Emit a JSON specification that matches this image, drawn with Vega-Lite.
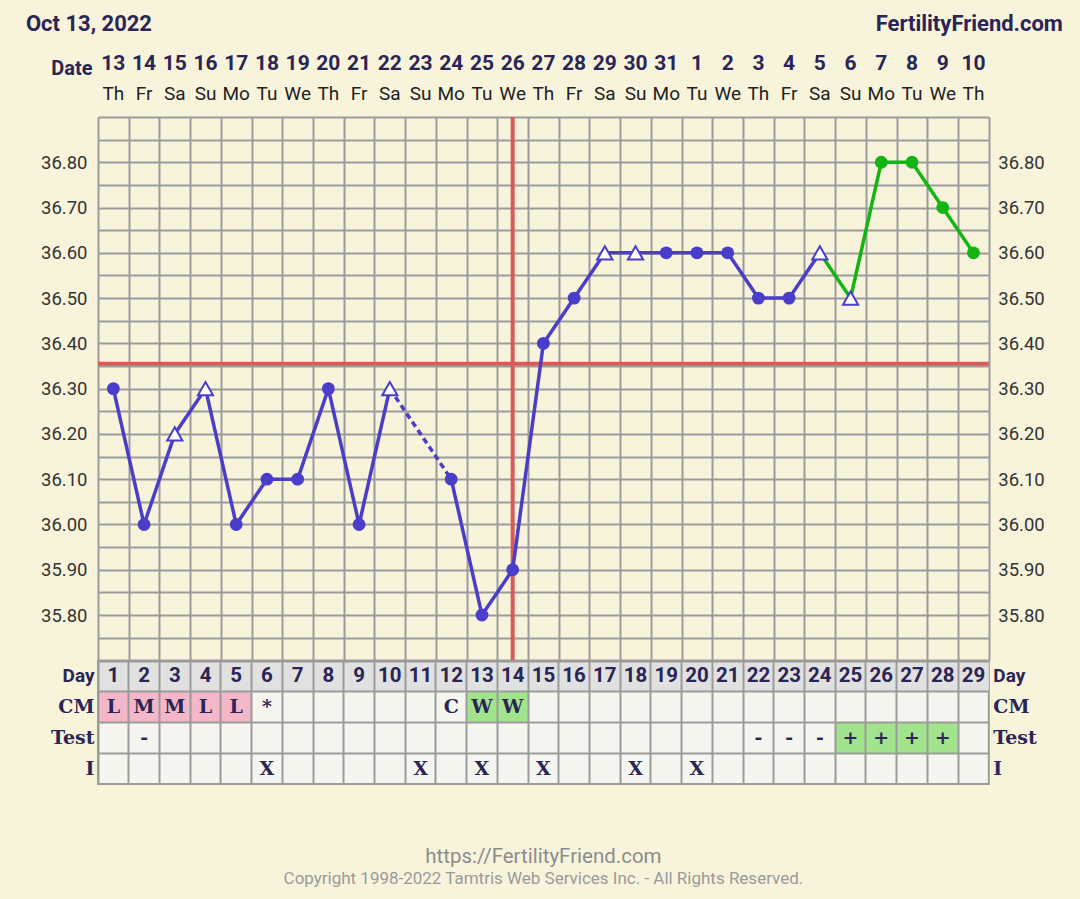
{
  "$schema": "https://vega.github.io/schema/vega-lite/v6.json",
  "background": "#f8f4dc",
  "padding": {"left": 25, "top": 12, "right": 25, "bottom": 30},
  "bounds": "flush",
  "spacing": 0,
  "resolve": {"scale": {"fill": "independent", "color": "independent"}},
  "config": {"view": {"stroke": null}, "font": "Roboto"},
  "datasets": {
    "days": [
      {"day":1,"date":"13","dow":"Th"},{"day":2,"date":"14","dow":"Fr"},{"day":3,"date":"15","dow":"Sa"},{"day":4,"date":"16","dow":"Su"},{"day":5,"date":"17","dow":"Mo"},{"day":6,"date":"18","dow":"Tu"},{"day":7,"date":"19","dow":"We"},{"day":8,"date":"20","dow":"Th"},{"day":9,"date":"21","dow":"Fr"},{"day":10,"date":"22","dow":"Sa"},{"day":11,"date":"23","dow":"Su"},{"day":12,"date":"24","dow":"Mo"},{"day":13,"date":"25","dow":"Tu"},{"day":14,"date":"26","dow":"We"},{"day":15,"date":"27","dow":"Th"},{"day":16,"date":"28","dow":"Fr"},{"day":17,"date":"29","dow":"Sa"},{"day":18,"date":"30","dow":"Su"},{"day":19,"date":"31","dow":"Mo"},{"day":20,"date":"1","dow":"Tu"},{"day":21,"date":"2","dow":"We"},{"day":22,"date":"3","dow":"Th"},{"day":23,"date":"4","dow":"Fr"},{"day":24,"date":"5","dow":"Sa"},{"day":25,"date":"6","dow":"Su"},{"day":26,"date":"7","dow":"Mo"},{"day":27,"date":"8","dow":"Tu"},{"day":28,"date":"9","dow":"We"},{"day":29,"date":"10","dow":"Th"}
    ],
    "temps": [
      {"day":1,"temp":36.3,"series":"main","kind":"circle"},
      {"day":2,"temp":36.0,"series":"main","kind":"circle"},
      {"day":3,"temp":36.2,"series":"main","kind":"open"},
      {"day":4,"temp":36.3,"series":"main","kind":"open"},
      {"day":5,"temp":36.0,"series":"main","kind":"circle"},
      {"day":6,"temp":36.1,"series":"main","kind":"circle"},
      {"day":7,"temp":36.1,"series":"main","kind":"circle"},
      {"day":8,"temp":36.3,"series":"main","kind":"circle"},
      {"day":9,"temp":36.0,"series":"main","kind":"circle"},
      {"day":10,"temp":36.3,"series":"main","kind":"open"},
      {"day":12,"temp":36.1,"series":"main","kind":"circle"},
      {"day":13,"temp":35.8,"series":"main","kind":"circle"},
      {"day":14,"temp":35.9,"series":"main","kind":"circle"},
      {"day":15,"temp":36.4,"series":"main","kind":"circle"},
      {"day":16,"temp":36.5,"series":"main","kind":"circle"},
      {"day":17,"temp":36.6,"series":"main","kind":"open"},
      {"day":18,"temp":36.6,"series":"main","kind":"open"},
      {"day":19,"temp":36.6,"series":"main","kind":"circle"},
      {"day":20,"temp":36.6,"series":"main","kind":"circle"},
      {"day":21,"temp":36.6,"series":"main","kind":"circle"},
      {"day":22,"temp":36.5,"series":"main","kind":"circle"},
      {"day":23,"temp":36.5,"series":"main","kind":"circle"},
      {"day":24,"temp":36.6,"series":"main","kind":"open"},
      {"day":25,"temp":36.5,"series":"late","kind":"open"},
      {"day":26,"temp":36.8,"series":"late","kind":"circle"},
      {"day":27,"temp":36.8,"series":"late","kind":"circle"},
      {"day":28,"temp":36.7,"series":"late","kind":"circle"},
      {"day":29,"temp":36.6,"series":"late","kind":"circle"}
    ],
    "links": [
      {"day":1,"temp":36.3,"seg":"A"},{"day":2,"temp":36.0,"seg":"A"},{"day":3,"temp":36.2,"seg":"A"},{"day":4,"temp":36.3,"seg":"A"},{"day":5,"temp":36.0,"seg":"A"},{"day":6,"temp":36.1,"seg":"A"},{"day":7,"temp":36.1,"seg":"A"},{"day":8,"temp":36.3,"seg":"A"},{"day":9,"temp":36.0,"seg":"A"},{"day":10,"temp":36.3,"seg":"A"},
      {"day":10,"temp":36.3,"seg":"B"},{"day":12,"temp":36.1,"seg":"B"},
      {"day":12,"temp":36.1,"seg":"C"},{"day":13,"temp":35.8,"seg":"C"},{"day":14,"temp":35.9,"seg":"C"},{"day":15,"temp":36.4,"seg":"C"},{"day":16,"temp":36.5,"seg":"C"},{"day":17,"temp":36.6,"seg":"C"},{"day":18,"temp":36.6,"seg":"C"},{"day":19,"temp":36.6,"seg":"C"},{"day":20,"temp":36.6,"seg":"C"},{"day":21,"temp":36.6,"seg":"C"},{"day":22,"temp":36.5,"seg":"C"},{"day":23,"temp":36.5,"seg":"C"},{"day":24,"temp":36.6,"seg":"C"},
      {"day":24,"temp":36.6,"seg":"D"},{"day":25,"temp":36.5,"seg":"D"},{"day":26,"temp":36.8,"seg":"D"},{"day":27,"temp":36.8,"seg":"D"},{"day":28,"temp":36.7,"seg":"D"},{"day":29,"temp":36.6,"seg":"D"}
    ],
    "obs": [
      {"day":1,"row":"CM","v":"L"},{"day":2,"row":"CM","v":"M"},{"day":3,"row":"CM","v":"M"},{"day":4,"row":"CM","v":"L"},{"day":5,"row":"CM","v":"L"},{"day":6,"row":"CM","v":"*"},{"day":12,"row":"CM","v":"C"},{"day":13,"row":"CM","v":"W"},{"day":14,"row":"CM","v":"W"},
      {"day":2,"row":"Test","v":"-"},{"day":22,"row":"Test","v":"-"},{"day":23,"row":"Test","v":"-"},{"day":24,"row":"Test","v":"-"},{"day":25,"row":"Test","v":"+"},{"day":26,"row":"Test","v":"+"},{"day":27,"row":"Test","v":"+"},{"day":28,"row":"Test","v":"+"},
      {"day":6,"row":"I","v":"X"},{"day":11,"row":"I","v":"X"},{"day":13,"row":"I","v":"X"},{"day":15,"row":"I","v":"X"},{"day":18,"row":"I","v":"X"},{"day":20,"row":"I","v":"X"}
    ]
  },
  "vconcat": [
    {
      "width": 890.8,
      "height": 70,
      "data": {"name": "days"},
      "layer": [
        {
          "mark": {"type": "text", "fontSize": 21, "fontWeight": "bold", "color": "#2a2555", "font": "Roboto"},
          "encoding": {
            "x": {"field": "day", "type": "ordinal", "scale": {"type": "band", "paddingInner": 0, "paddingOuter": 0},
                  "axis": {"orient": "top", "labels": false, "ticks": false, "domain": false, "grid": false,
                           "title": "FertilityFriend.com", "titleX": 964.4, "titleY": -23.7, "titleAlign": "right", "titleBaseline": "middle", "titleAngle": 0,
                           "titleFontSize": 22, "titleFontWeight": "bold", "titleColor": "#2a2555", "titleFont": "Roboto"}},
            "y": {"datum": "n", "type": "ordinal", "scale": {"type": "point", "domain": ["n", "w"], "range": [17, 46.5], "padding": 0},
                  "axis": {"orient": "left", "labelExpr": "datum.value === 'n' ? 'Date' : ''", "labelOffset": 4, "labelFontSize": 20, "labelFontWeight": "bold", "labelColor": "#2a2555", "labelFont": "Roboto",
                           "ticks": false, "domain": false, "grid": false, "labelPadding": 6,
                           "title": "Oct 13, 2022", "titleX": -72.6, "titleY": -23.7, "titleAlign": "left", "titleBaseline": "middle", "titleAngle": 0,
                           "titleFontSize": 22, "titleFontWeight": "bold", "titleColor": "#2a2555", "titleFont": "Roboto"}},
            "text": {"field": "date"}
          }
        },
        {
          "mark": {"type": "text", "fontSize": 19, "color": "#222222", "font": "Roboto"},
          "encoding": {
            "x": {"field": "day", "type": "ordinal"},
            "y": {"datum": "w", "type": "ordinal"},
            "text": {"field": "dow"}
          }
        }
      ]
    },
    {
      "width": 890.8,
      "height": 543.3,
      "resolve": {"axis": {"y": "independent"}},
      "layer": [
        {
          "data": {"values": [{"day": 14}]},
          "mark": {"type": "rule", "color": "#d85a5a", "strokeWidth": 4},
          "encoding": {
            "x": {"field": "day", "type": "quantitative", "scale": {"domain": [0.5, 29.5], "nice": false, "zero": false},
                  "axis": {"values": [0.5,1.5,2.5,3.5,4.5,5.5,6.5,7.5,8.5,9.5,10.5,11.5,12.5,13.5,14.5,15.5,16.5,17.5,18.5,19.5,20.5,21.5,22.5,23.5,24.5,25.5,26.5,27.5,28.5,29.5],
                           "grid": true, "gridColor": "#9b9b9b", "gridWidth": 2, "labels": false, "ticks": false, "domain": false, "title": null}}
          }
        },
        {
          "data": {"values": [{"temp": 36.355}]},
          "mark": {"type": "rule", "color": "#d85a5a", "strokeWidth": 4},
          "encoding": {
            "y": {"field": "temp", "type": "quantitative", "scale": {"domain": [35.7, 36.9], "nice": false, "zero": false},
                  "axis": {"orient": "left", "values": [35.7,35.75,35.8,35.85,35.9,35.95,36,36.05,36.1,36.15,36.2,36.25,36.3,36.35,36.4,36.45,36.5,36.55,36.6,36.65,36.7,36.75,36.8,36.85,36.9],
                           "grid": true, "gridColor": "#9b9b9b", "gridWidth": 2,
                           "labelExpr": "(datum.value >= 35.79 && datum.value <= 36.81 && abs(datum.value*10 - round(datum.value*10)) < 0.01) ? format(datum.value, '.2f') : ''",
                           "labelFontSize": 18.5, "labelColor": "#333333", "labelFont": "Roboto", "ticks": false, "domain": false, "title": null, "labelPadding": 11}}
          }
        },
        {
          "data": {"name": "links"},
          "mark": {"type": "line", "strokeWidth": 3.5},
          "encoding": {
            "x": {"field": "day", "type": "quantitative",
                  "axis": {"values": [0.5,1.5,2.5,3.5,4.5,5.5,6.5,7.5,8.5,9.5,10.5,11.5,12.5,13.5,14.5,15.5,16.5,17.5,18.5,19.5,20.5,21.5,22.5,23.5,24.5,25.5,26.5,27.5,28.5,29.5],
                           "grid": true, "gridColor": "#9b9b9b", "gridWidth": 2, "labels": false, "ticks": false, "domain": false, "title": null}},
            "y": {"field": "temp", "type": "quantitative",
                  "axis": {"orient": "right", "values": [35.8,35.9,36,36.1,36.2,36.3,36.4,36.5,36.6,36.7,36.8], "format": ".2f", "grid": false,
                           "labelFontSize": 18.5, "labelColor": "#333333", "labelFont": "Roboto", "ticks": false, "domain": false, "title": null, "labelPadding": 9}},
            "detail": {"field": "seg"},
            "color": {"field": "seg", "type": "nominal", "scale": {"domain": ["A", "B", "C", "D"], "range": ["#4a3dc8", "#4a3dc8", "#4a3dc8", "#13b513"]}, "legend": null},
            "strokeDash": {"field": "seg", "type": "nominal", "scale": {"domain": ["A", "B", "C", "D"], "range": [[1, 0], [6, 4], [1, 0], [1, 0]]}, "legend": null}
          }
        },
        {
          "data": {"name": "temps"},
          "transform": [{"filter": "datum.kind === 'circle'"}],
          "mark": {"type": "circle", "size": 165, "opacity": 1},
          "encoding": {
            "x": {"field": "day", "type": "quantitative",
                  "axis": {"values": [0.5,1.5,2.5,3.5,4.5,5.5,6.5,7.5,8.5,9.5,10.5,11.5,12.5,13.5,14.5,15.5,16.5,17.5,18.5,19.5,20.5,21.5,22.5,23.5,24.5,25.5,26.5,27.5,28.5,29.5],
                           "grid": true, "gridColor": "#9b9b9b", "gridWidth": 2, "labels": false, "ticks": false, "domain": false, "title": null}},
            "y": {"field": "temp", "type": "quantitative", "axis": null},
            "fill": {"field": "series", "type": "nominal", "scale": {"domain": ["main", "late"], "range": ["#4a3dc8", "#13b513"]}, "legend": null}
          }
        },
        {
          "data": {"name": "temps"},
          "transform": [{"filter": "datum.kind === 'open'"}],
          "mark": {"type": "point", "shape": "triangle-up", "size": 230, "filled": true, "fill": "#ffffff", "stroke": "#4a3dc8", "strokeWidth": 2, "opacity": 1},
          "encoding": {
            "x": {"field": "day", "type": "quantitative",
                  "axis": {"values": [0.5,1.5,2.5,3.5,4.5,5.5,6.5,7.5,8.5,9.5,10.5,11.5,12.5,13.5,14.5,15.5,16.5,17.5,18.5,19.5,20.5,21.5,22.5,23.5,24.5,25.5,26.5,27.5,28.5,29.5],
                           "grid": true, "gridColor": "#9b9b9b", "gridWidth": 2, "labels": false, "ticks": false, "domain": false, "title": null}},
            "y": {"field": "temp", "type": "quantitative", "axis": null}
          }
        }
      ]
    },
    {
      "width": 890.8,
      "height": 123,
      "view": {"fill": "#f6f6f0", "stroke": "#9b9b9b", "strokeWidth": 2},
      "title": {"text": "https://FertilityFriend.com", "subtitle": "Copyright 1998-2022 Tamtris Web Services Inc. - All Rights Reserved.",
                "orient": "bottom", "anchor": "middle", "frame": "group", "offset": 63, "fontSize": 20.5, "fontWeight": "normal", "color": "#8c8c8c", "font": "Roboto",
                "subtitleFontSize": 17, "subtitleColor": "#9a9a9a", "subtitleFont": "Roboto", "subtitlePadding": 4},
      "resolve": {"axis": {"y": "independent"}},
      "layer": [
        {
          "data": {"name": "days"},
          "mark": {"type": "rect", "color": "#e1e1e1"},
          "encoding": {
            "x": {"field": "day", "type": "ordinal", "scale": {"type": "band", "paddingInner": 0, "paddingOuter": 0},
                  "axis": {"orient": "bottom", "grid": true, "bandPosition": 0, "gridColor": "#9b9b9b", "gridWidth": 2, "zindex": 1, "labels": false, "ticks": false, "domain": false, "title": null}},
            "y": {"datum": "Day", "type": "ordinal", "scale": {"type": "band", "domain": ["Day", "CM", "Test", "I"], "paddingInner": 0, "paddingOuter": 0},
                  "axis": {"orient": "left", "grid": true, "bandPosition": 0, "gridColor": "#9b9b9b", "gridWidth": 2, "zindex": 1,
                           "labelFontSize": 19, "labelFontWeight": "bold", "labelColor": "#2a2555",
                           "labelFont": {"condition": {"test": "datum.value === 'Day'", "value": "Roboto"}, "value": "DejaVu Serif"},
                           "ticks": false, "domain": false, "title": null, "labelPadding": 4}}
          }
        },
        {
          "data": {"name": "obs"},
          "transform": [{"filter": "indexof(['L','M','W','+'], datum.v) >= 0"}],
          "mark": {"type": "rect"},
          "encoding": {
            "x": {"field": "day", "type": "ordinal"},
            "y": {"field": "row", "type": "ordinal", "axis": null},
            "fill": {"field": "v", "type": "nominal", "scale": {"domain": ["L", "M", "W", "+"], "range": ["#f4b6c9", "#f4b6c9", "#a2e38e", "#a2e38e"]}, "legend": null}
          }
        },
        {
          "data": {"name": "days"},
          "mark": {"type": "text", "fontSize": 20.5, "fontWeight": "bold", "color": "#2a2555", "font": "Roboto"},
          "encoding": {
            "x": {"field": "day", "type": "ordinal"},
            "y": {"datum": "Day", "type": "ordinal",
                  "axis": {"orient": "right", "grid": false, "bandPosition": 0, "labelAlign": "left",
                           "labelFontSize": 19, "labelFontWeight": "bold", "labelColor": "#2a2555",
                           "labelFont": {"condition": {"test": "datum.value === 'Day'", "value": "Roboto"}, "value": "DejaVu Serif"},
                           "ticks": false, "domain": false, "title": null, "labelPadding": 4}},
            "text": {"field": "day"}
          }
        },
        {
          "data": {"name": "obs"},
          "mark": {"type": "text", "fontSize": 19, "fontWeight": "bold", "color": "#2a2555", "font": "DejaVu Serif"},
          "encoding": {
            "x": {"field": "day", "type": "ordinal"},
            "y": {"field": "row", "type": "ordinal", "axis": null},
            "text": {"field": "v"}
          }
        }
      ]
    }
  ]
}
